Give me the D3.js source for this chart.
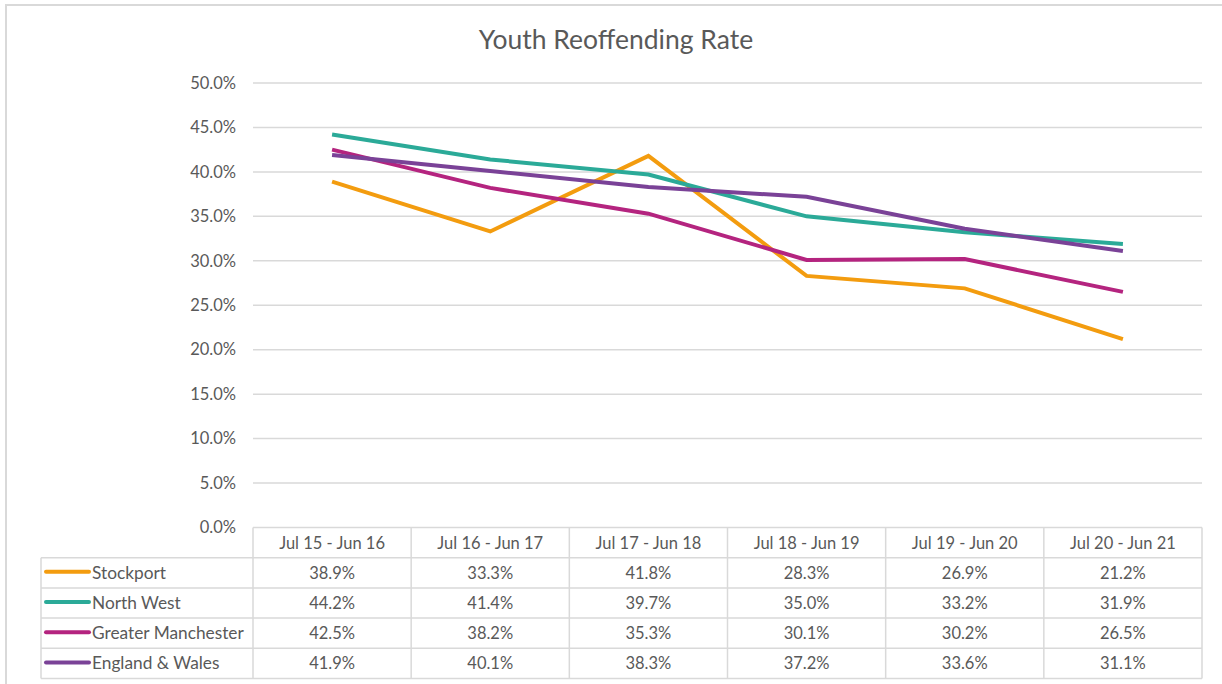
<!DOCTYPE html>
<html><head><meta charset="utf-8">
<script src="https://cdn.jsdelivr.net/npm/d3@7"></script>
<style>
body{margin:0;background:#fff;}
svg text{font-family:"Lato","Open Sans",sans-serif;}
</style></head>
<body><svg id="c" width="1222" height="684"></svg>
<script>
const categories = ["Jul 15 - Jun 16","Jul 16 - Jun 17","Jul 17 - Jun 18","Jul 18 - Jun 19","Jul 19 - Jun 20","Jul 20 - Jun 21"];
const seriesNames = ["Stockport","North West","Greater Manchester","England & Wales"];
const stockport = [38.9,33.3,41.8,28.3,26.9,21.2];
const northWest = [44.2,41.4,39.7,35.0,33.2,31.9];
const greaterManchester = [42.5,38.2,35.3,30.1,30.2,26.5];
const englandWales = [41.9,40.1,38.3,37.2,33.6,31.1];
const yTicks = [0,5,10,15,20,25,30,35,40,45,50];
const colors = ["#F39C0F","#2BAA98","#B4247F","#7A4297"];
const series = [stockport, northWest, greaterManchester, englandWales];

const svg = d3.select("#c");
const L = 253, R = 1202, T = 83, B = 527.5;
const rowH = 30.2;
const legendL = 41;
const fs = 16.5;

// outer frame
svg.append("rect").attr("x",6).attr("y",5).attr("width",1222).attr("height",700)
  .attr("fill","none").attr("stroke","#d9d9d9").attr("stroke-width",2);

svg.append("text").attr("x",616).attr("y",49).attr("text-anchor","middle")
  .attr("font-size",26.5).attr("fill","#595959").text("Youth Reoffending Rate");

const x = d3.scaleBand().domain(categories).range([L,R]);
const y = d3.scaleLinear().domain([0,50]).range([B,T]);

// grid
svg.append("g").selectAll("line").data(yTicks.slice(1)).join("line")
  .attr("x1",L).attr("x2",R).attr("y1",d=>y(d)).attr("y2",d=>y(d))
  .attr("stroke","#d9d9d9").attr("stroke-width",1.5);

// y axis
const yAxis = d3.axisLeft(y).tickValues(yTicks).tickFormat(d=>d.toFixed(1)+"%").tickSize(0).tickPadding(17);
const ya = svg.append("g").attr("transform",`translate(${L},0)`).call(yAxis);
ya.select(".domain").remove();
ya.selectAll("text").attr("font-size",fs).attr("fill","#595959").attr("font-family","Lato, sans-serif");

// lines
const line = d3.line().x((d,i)=>x(categories[i])+x.bandwidth()/2).y(d=>y(d));
series.forEach((s,k)=>{
  svg.append("path").datum(s).attr("d",line).attr("fill","none")
    .attr("stroke",colors[k]).attr("stroke-width",4).attr("stroke-linejoin","miter");
});

// table
const tg = svg.append("g");
const gridC = "#d9d9d9";
tg.append("line").attr("x1",L).attr("x2",R).attr("y1",B).attr("y2",B).attr("stroke",gridC).attr("stroke-width",1.5);
for(let r=1;r<=5;r++){
  const yy = B + r*rowH;
  tg.append("line").attr("x1",legendL).attr("x2",R).attr("y1",yy).attr("y2",yy).attr("stroke",gridC).attr("stroke-width",1.5);
}
tg.append("line").attr("x1",legendL).attr("x2",legendL).attr("y1",B+rowH).attr("y2",B+5*rowH).attr("stroke",gridC).attr("stroke-width",1.5);
const cols = categories.map(c=>x(c)).concat([R]);
cols.forEach(cx=>{
  tg.append("line").attr("x1",cx).attr("x2",cx).attr("y1",B).attr("y2",B+5*rowH).attr("stroke",gridC).attr("stroke-width",1.5);
});
tg.selectAll("text.h").data(categories).join("text").attr("class","h")
  .attr("x",d=>x(d)+x.bandwidth()/2).attr("y",B+rowH/2+6).attr("text-anchor","middle")
  .attr("font-size",fs).attr("fill","#595959").text(d=>d);
series.forEach((s,k)=>{
  const yy = B + (k+1)*rowH + rowH/2;
  tg.append("line").attr("x1",46).attr("x2",89).attr("y1",yy-1).attr("y2",yy-1)
    .attr("stroke",colors[k]).attr("stroke-width",4).attr("stroke-linecap","round");
  tg.append("text").attr("x",92).attr("y",yy+6).attr("font-size",17.3).attr("fill","#595959").text(seriesNames[k]);
  tg.selectAll(null).data(s).join("text")
    .attr("x",(d,i)=>x(categories[i])+x.bandwidth()/2).attr("y",yy+6).attr("text-anchor","middle")
    .attr("font-size",fs).attr("fill","#595959").text(d=>d.toFixed(1)+"%");
});
</script></body></html>
